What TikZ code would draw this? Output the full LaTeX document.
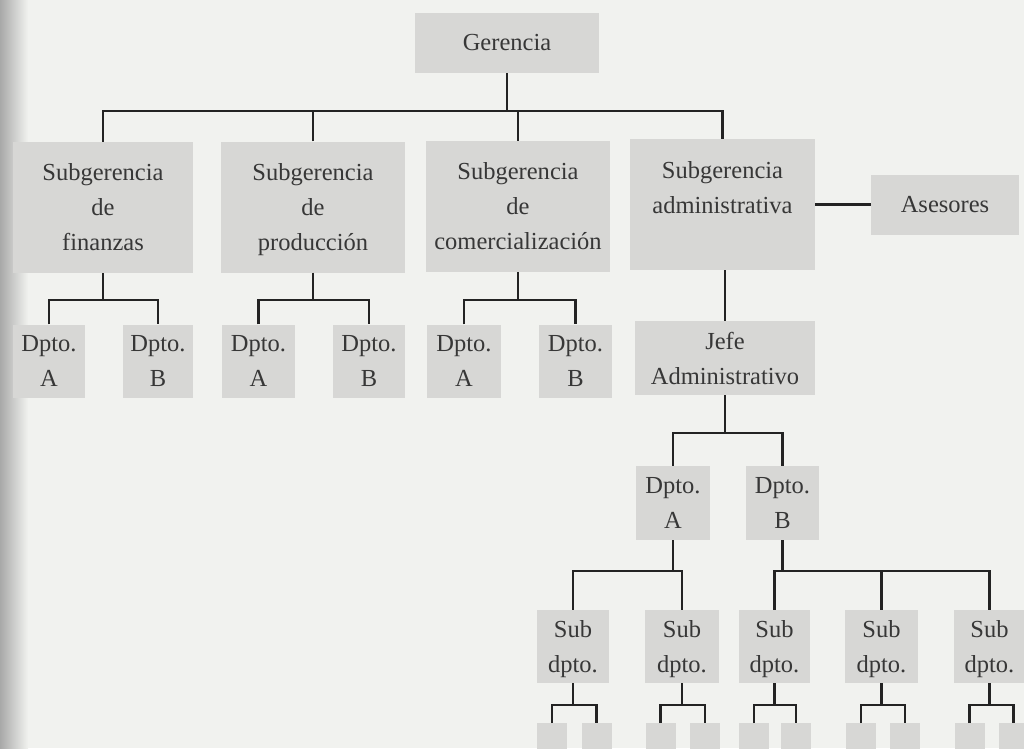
\documentclass[tikz,border=0pt]{standalone}
\usepackage{fontspec}
\setmainfont{Liberation Serif}
\definecolor{bg}{RGB}{241,242,239}
\definecolor{boxfill}{RGB}{215,215,213}
\definecolor{txt}{RGB}{55,55,55}
\definecolor{ln}{RGB}{35,35,35}
\newcommand{\nodep}[1]{\raisebox{0pt}[\height][0pt]{#1}}
\begin{document}
\begin{tikzpicture}[x=1pt,y=-1pt,
  box/.style={fill=boxfill, draw=none, inner sep=0pt, align=center, text=txt,
    font=\fontsize{24.5}{35}\selectfont},
  big/.style={box, minimum width=#1, minimum height=131},
  dep/.style={box, minimum width=#1, minimum height=73},
  tiny/.style={fill=boxfill, draw=none, inner sep=0pt, minimum width=30, minimum height=45, anchor=north},
  conn/.style={draw=ln, line width=2.1pt}]
\useasboundingbox (0,0) rectangle (1024,748);
\clip (0,0) rectangle (1024,748);
\fill[bg] (0,0) rectangle (1024,748);
\shade[left color=black!38, right color=bg] (-4,0) rectangle (28,748);

% nodes
\node[box, minimum width=184, minimum height=60] (ger) at (507,43) {Gerencia};
\node[big=180] (sf) at (103,207.5) {Subgerencia\\de\\finanzas};
\node[big=184] (sp) at (313,207) {Subgerencia\\de\\\nodep{producción}};
\node[big=184] (sc) at (518,206.5) {Subgerencia\\de\\comercialización};
\node[big=185] (sa) at (722.5,204.5) {Subgerencia\\administrativa\\\mbox{}};
\node[box, minimum width=148, minimum height=60] (ase) at (945,205) {Asesores};

\node[dep=72] (fA) at (49,361) {Dpto.\\A};
\node[dep=70] (fB) at (158,361) {Dpto.\\B};
\node[dep=73] (pA) at (258.5,361) {Dpto.\\A};
\node[dep=72] (pB) at (369,361) {Dpto.\\B};
\node[dep=74] (cA) at (464,361) {Dpto.\\A};
\node[dep=73] (cB) at (575.5,361) {Dpto.\\B};
\node[box, minimum width=180, minimum height=74] (jefe) at (725,358) {Jefe\\Administrativo};

\node[dep=74, minimum height=74] (dA) at (673,503) {Dpto.\\A};
\node[dep=73, minimum height=74] (dB) at (782.5,503) {Dpto.\\B};

\node[dep=72] (s1) at (573,646.5) {Sub\\\nodep{dpto.}};
\node[dep=74] (s2) at (682,646.5) {Sub\\\nodep{dpto.}};
\node[dep=71] (s3) at (774.5,646.5) {Sub\\\nodep{dpto.}};
\node[dep=73] (s4) at (881.5,646.5) {Sub\\\nodep{dpto.}};
\node[dep=71] (s5) at (989.5,646.5) {Sub\\\nodep{dpto.}};

\node[tiny] (t1a) at (552,723) {};
\node[tiny] (t1b) at (596.5,723) {};
\node[tiny] (t2a) at (660.5,723) {};
\node[tiny] (t2b) at (705,723) {};
\node[tiny] (t3a) at (754,723) {};
\node[tiny] (t3b) at (796,723) {};
\node[tiny] (t4a) at (861,723) {};
\node[tiny] (t4b) at (905,723) {};
\node[tiny] (t5a) at (969.5,723) {};
\node[tiny] (t5b) at (1013.5,723) {};

% bus levels
\coordinate (b0) at (0,111);
\coordinate (b1) at (0,300);
\coordinate (b2) at (0,433);
\coordinate (b3) at (0,571);
\coordinate (b4) at (0,705);

% connectors
\draw[conn] (ger.south) -- (ger.south |- b0);
\draw[conn] (sf.north) -- (sf.north |- b0) -| (sa.north);
\draw[conn] (sp.north) -- (sp.north |- b0);
\draw[conn] (sc.north) -- (sc.north |- b0);
\draw[conn] (sa.east) -- (sa.east -| ase.west);

\draw[conn] (sf.south) -- (sf.south |- b1);
\draw[conn] (fA.north) -- (fA.north |- b1) -| (fB.north);
\draw[conn] (sp.south) -- (sp.south |- b1);
\draw[conn] (pA.north) -- (pA.north |- b1) -| (pB.north);
\draw[conn] (sc.south) -- (sc.south |- b1);
\draw[conn] (cA.north) -- (cA.north |- b1) -| (cB.north);
\draw[conn] (jefe.north) -- (jefe.north |- sa.south);

\draw[conn] (jefe.south) -- (jefe.south |- b2);
\draw[conn] (dA.north) -- (dA.north |- b2) -| (dB.north);

\draw[conn] (dA.south) -- (dA.south |- b3);
\draw[conn] (s1.north) -- (s1.north |- b3) -| (s2.north);
\draw[conn] (dB.south) -- (dB.south |- b3);
\draw[conn] (s3.north) -- (s3.north |- b3) -| (s5.north);
\draw[conn] (s4.north) -- (s4.north |- b3);

\foreach \s/\a/\b in {s1/t1a/t1b, s2/t2a/t2b, s3/t3a/t3b, s4/t4a/t4b, s5/t5a/t5b}{
  \draw[conn] (\s.south) -- (\s.south |- b4);
  \draw[conn] (\a.north) -- (\a.north |- b4) -| (\b.north);
}
\end{tikzpicture}
\end{document}
